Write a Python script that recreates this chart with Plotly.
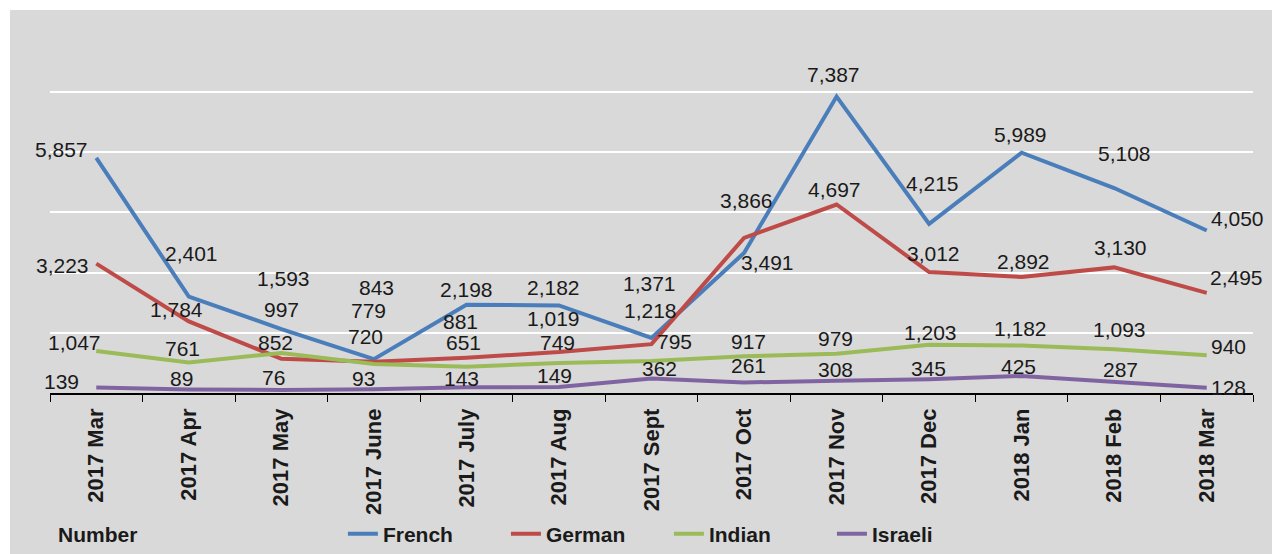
import plotly.graph_objects as go

# categories and series values
months = ["2017 Mar", "2017 Apr", "2017 May", "2017 June", "2017 July", "2017 Aug",
          "2017 Sept", "2017 Oct", "2017 Nov", "2017 Dec", "2018 Jan", "2018 Feb", "2018 Mar"]

french = [5857, 2401, 1593, 843, 2198, 2182, 1371, 3491, 7387, 4215, 5989, 5108, 4050]
german = [3223, 1784, 852, 779, 881, 1019, 1218, 3866, 4697, 3012, 2892, 3130, 2495]
indian = [1047, 761, 997, 720, 651, 749, 795, 917, 979, 1203, 1182, 1093, 940]
israeli = [139, 89, 76, 93, 143, 149, 362, 261, 308, 345, 425, 287, 128]

# label nudges (pixels) so labels sit roughly where the original put them
french_off = [(-35, 8), (3, 43), (2, 51), (3, 72), (0, 15), (-5, 18), (-2, 54),
              (23, -10), (-3, 22), (3, 40), (-1, 18), (10, 35), (31, 12)]
german_off = [(-34, -2), (-12, 12), (-6, 16), (-5, 51), (-6, 36), (-5, 34), (-1, 34),
              (2, 37), (-2, 15), (4, 19), (2, 15), (6, 20), (30, 15)]
indian_off = [(-22, 8), (-6, 14), (0, 43), (-8, 28), (-3, 24), (-1, 20), (23, 20),
              (4, 15), (-1, 15), (1, 12), (-1, 17), (5, 20), (22, 9)]
israeli_off = [(-35, 6), (-7, 11), (-8, 12), (-10, 11), (-5, 9), (-4, 12), (8, 10),
               (4, 17), (-1, 11), (-1, 11), (-3, 9), (6, 12), (22, 0)]

series = [
    ("French", french, "#4a7ebb", french_off),
    ("German", german, "#be4b48", german_off),
    ("Indian", indian, "#9bbb59", indian_off),
    ("Israeli", israeli, "#8064a2", israeli_off),
]

fig = go.Figure()
annotations = []
for name, vals, color, offs in series:
    fig.add_trace(go.Scatter(x=months, y=vals, mode="lines", name=name,
                             line=dict(color=color, width=4)))
    for m, v, (dx, dy) in zip(months, vals, offs):
        annotations.append(dict(x=m, y=v, text=f"{v:,}", showarrow=False,
                                xshift=dx, yshift=dy,
                                font=dict(family="Liberation Sans", size=21, color="#1a1a1a")))

annotations.append(dict(xref="paper", yref="paper", x=0.005, y=-0.40, xanchor="left",
                        yanchor="middle", text="<b>Number</b>", showarrow=False,
                        font=dict(family="Liberation Sans", size=21, color="#1a1a1a")))

# page body adds an 8px margin, so the figure is 8px smaller than the window
fig.update_layout(
    width=1277, height=546,
    margin=dict(l=42, r=32, t=32, b=161, autoexpand=False),
    paper_bgcolor="white",
    plot_bgcolor="rgba(0,0,0,0)",
    showlegend=True,
    legend=dict(orientation="h", x=0.2435, y=-0.40, xanchor="left", yanchor="middle",
                bgcolor="rgba(0,0,0,0)", entrywidth=118, entrywidthmode="pixels",
                font=dict(family="Liberation Sans", size=21, color="#1a1a1a", weight="bold")),
    annotations=annotations,
    shapes=[dict(type="rect", xref="paper", yref="paper", x0=-0.0333, x1=1.0158,
                 y0=-0.47, y1=1.085, fillcolor="#d9d9d9", line=dict(width=0), layer="below")],
)

fig.update_xaxes(type="category", range=[-0.5, 12.5], showline=True, linecolor="black",
                 linewidth=1.5, ticks="outside", tickson="boundaries", ticklen=7,
                 tickcolor="black", tickangle=-90, showgrid=False, automargin=False,
                 ticklabelstandoff=5,
                 tickfont=dict(family="Liberation Sans", size=22, color="#1a1a1a", weight="bold"))
fig.update_yaxes(range=[0, 8796], tickvals=[1500, 3000, 4500, 6000, 7500],
                 showticklabels=False, showgrid=True, gridcolor="white", gridwidth=2,
                 zeroline=False, automargin=False)

fig.write_html("out.html")
